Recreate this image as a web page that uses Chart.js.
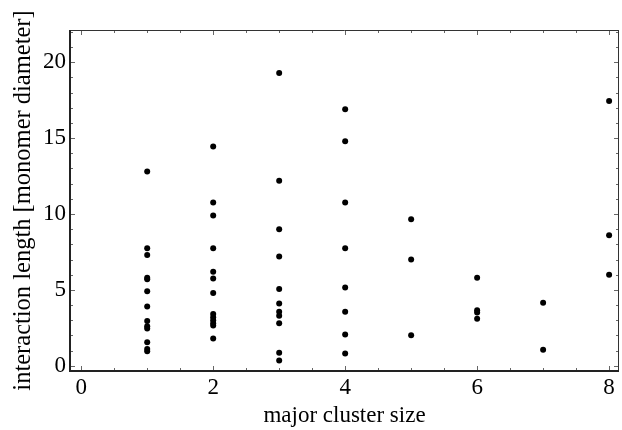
<!DOCTYPE html>
<html>
<head>
<meta charset="utf-8">
<script src="https://cdn.jsdelivr.net/npm/chart.js@4"></script>
<style>
html,body{margin:0;padding:0;background:#fff;}
#wrap{width:622px;height:430px;}
</style>
</head>
<body>
<div id="wrap"><canvas id="c" width="622" height="430"></canvas></div>
<script>
const clusterSizes = [1, 2, 3, 4, 5, 6, 7, 8];
const lengthsSize1 = [12.8, 7.75, 7.3, 5.8, 5.7, 4.9, 3.9, 2.95, 2.6, 2.45, 1.55, 1.1, 0.95];
const lengthsSize2 = [14.45, 10.75, 9.9, 7.75, 6.2, 5.75, 4.8, 3.4, 3.2, 3.0, 2.8, 2.65, 1.8];
const lengthsSize3 = [19.3, 12.2, 9.0, 7.2, 5.05, 4.1, 3.55, 3.3, 2.8, 0.85, 0.35];
const lengthsSize4 = [16.9, 14.8, 10.75, 7.75, 5.15, 3.55, 2.05, 0.8];
const lengthsSize5 = [9.65, 7.0, 2.0];
const lengthsSize6 = [5.8, 3.65, 3.5, 3.1];
const lengthsSize7 = [4.15, 1.05];
const lengthsSize8 = [17.45, 8.6, 6.0];
const xTickLabels = [0, 2, 4, 6, 8];
const yTickLabels = [0, 5, 10, 15, 20];

const allLengths = [lengthsSize1, lengthsSize2, lengthsSize3, lengthsSize4,
                    lengthsSize5, lengthsSize6, lengthsSize7, lengthsSize8];
const points = [];
clusterSizes.forEach((s, i) => allLengths[i].forEach(v => points.push({x: s, y: v})));

const serif = "'Liberation Serif', 'Times New Roman', serif";

const framePlugin = {
  id: 'frame',
  afterDraw(chart) {
    const {ctx, chartArea: a, scales} = chart;
    const xs = scales.x, ys = scales.y;
    ctx.save();
    ctx.strokeStyle = '#666';
    ctx.lineWidth = 1;
    for (let v = 0; v <= 8.001; v += 0.5) {
      const px = Math.round(xs.getPixelForValue(v)) + 0.5;
      const major = xTickLabels.includes(v);
      const len = major ? 5 : 3;
      ctx.beginPath();
      ctx.moveTo(px, a.bottom); ctx.lineTo(px, a.bottom - len);
      ctx.moveTo(px, a.top); ctx.lineTo(px, a.top + len);
      ctx.stroke();
    }
    for (let v = 0; v <= 22; v += 1) {
      const py = Math.round(ys.getPixelForValue(v)) + 0.5;
      const major = yTickLabels.includes(v);
      const len = major ? 5 : 3;
      ctx.beginPath();
      ctx.moveTo(a.left, py); ctx.lineTo(a.left + len, py);
      ctx.moveTo(a.right, py); ctx.lineTo(a.right - len, py);
      ctx.stroke();
    }
    ctx.strokeStyle = '#333';
    ctx.lineWidth = 1;
    ctx.beginPath();
    ctx.moveTo(a.left, a.top + 0.5); ctx.lineTo(a.right, a.top + 0.5);
    ctx.moveTo(a.right - 0.5, a.top); ctx.lineTo(a.right - 0.5, a.bottom);
    ctx.stroke();
    ctx.strokeStyle = '#222';
    ctx.lineWidth = 2;
    ctx.beginPath();
    ctx.moveTo(a.left, a.top); ctx.lineTo(a.left, a.bottom);
    ctx.lineTo(a.right, a.bottom);
    ctx.stroke();
    ctx.restore();
  }
};

new Chart(document.getElementById('c'), {
  type: 'scatter',
  data: {
    datasets: [{
      data: points,
      backgroundColor: '#000',
      borderColor: '#000',
      pointRadius: 3,
      pointHoverRadius: 3,
      borderWidth: 0
    }]
  },
  options: {
    responsive: false,
    animation: false,
    layout: {padding: {top: 30, right: 1, left: 0, bottom: 0}},
    plugins: {legend: {display: false}, tooltip: {enabled: false}},
    scales: {
      x: {
        type: 'linear',
        min: -0.17, max: 8.15,
        afterBuildTicks(s) { s.ticks = xTickLabels.map(v => ({value: v})); },
        afterFit(s) { s.height = 59; },
        grid: {display: false, drawTicks: false},
        border: {display: false},
        ticks: {color: '#000', font: {family: serif, size: 23}, padding: 3, maxRotation: 0, autoSkip: false},
        title: {display: true, text: 'major cluster size', color: '#000', font: {family: serif, size: 23}, padding: {top: 0, bottom: 0}}
      },
      y: {
        type: 'linear',
        min: -0.35, max: 22.13,
        afterBuildTicks(s) { s.ticks = yTickLabels.map(v => ({value: v})); },
        afterFit(s) { s.width = 70; },
        grid: {display: false, drawTicks: false},
        border: {display: false},
        ticks: {color: '#000', font: {family: serif, size: 23}, padding: 4, autoSkip: false},
        title: {display: true, text: 'interaction length [monomer diameter]', color: '#000', font: {family: serif, size: 24.5}, padding: {top: 9, bottom: 0}}
      }
    }
  },
  plugins: [framePlugin]
});
</script>
</body>
</html>
